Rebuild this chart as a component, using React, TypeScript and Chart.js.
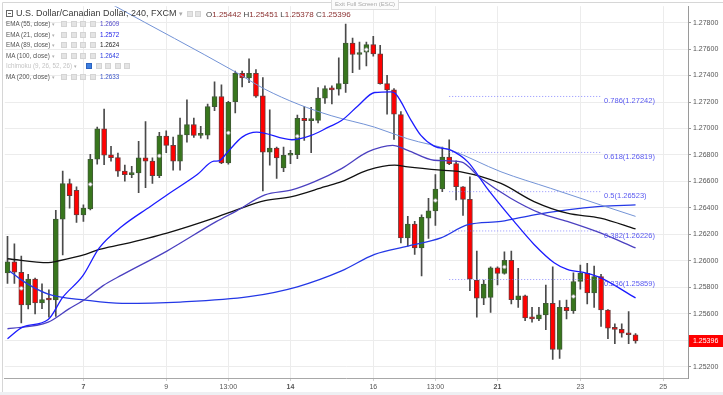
import React, { useEffect, useRef } from 'react';
import { Chart, registerables } from 'chart.js';

Chart.register(...registerables);

// ---- Candles (4h bars), index 0..91 ----
const opens = [
  1.25909, 1.25993, 1.25914, 1.25667, 1.25862, 1.25682, 1.25707, 1.25704, 1.26315, 1.26583,
  1.26533, 1.26348, 1.26393, 1.26768, 1.26997, 1.26802, 1.26780, 1.26678, 1.26652, 1.26665,
  1.26778, 1.26753, 1.26643, 1.26942, 1.26873, 1.26753, 1.26952, 1.27030, 1.26948, 1.26950,
  1.27165, 1.27242, 1.26740, 1.27202, 1.27416, 1.27382, 1.27416, 1.27247, 1.26822, 1.26852,
  1.26703, 1.26798, 1.26802, 1.27077, 1.27060, 1.27061, 1.27229, 1.27302, 1.27297, 1.27339,
  1.27646, 1.27559, 1.27577, 1.27634, 1.27564, 1.27339, 1.27292, 1.27105, 1.26173, 1.26278,
  1.26098, 1.26323, 1.26378, 1.26543, 1.26785, 1.26735, 1.26560, 1.26465, 1.25855, 1.25719,
  1.25724, 1.25948, 1.25906, 1.26004, 1.25707, 1.25736, 1.25572, 1.25562, 1.25592, 1.25679,
  1.25330, 1.25649, 1.25624, 1.25844, 1.25906, 1.25757, 1.25881, 1.25629, 1.25495, 1.25482,
  1.25457, 1.25442,
];
const highs = [
  1.26186, 1.26128, 1.26036, 1.25899, 1.25870, 1.25826, 1.25781, 1.26381, 1.26678, 1.26618,
  1.26560, 1.26423, 1.26805, 1.27010, 1.27147, 1.26865, 1.26815, 1.26723, 1.26715, 1.26903,
  1.27052, 1.26778, 1.26972, 1.26982, 1.26935, 1.27079, 1.27217, 1.27079, 1.27017, 1.27184,
  1.27352, 1.27330, 1.27205, 1.27434, 1.27434, 1.27527, 1.27446, 1.27384, 1.27142, 1.26860,
  1.26860, 1.26835, 1.27102, 1.27167, 1.27160, 1.27309, 1.27322, 1.27322, 1.27534, 1.27789,
  1.27684, 1.27652, 1.27652, 1.27697, 1.27629, 1.27402, 1.27302, 1.27127, 1.26336, 1.26298,
  1.26348, 1.26473, 1.26652, 1.26860, 1.26915, 1.26755, 1.26562, 1.26635, 1.26074, 1.25854,
  1.25954, 1.25954, 1.26068, 1.26074, 1.25944, 1.25742, 1.25649, 1.25649, 1.25817, 1.25954,
  1.25699, 1.25704, 1.25909, 1.25969, 1.25981, 1.25961, 1.25899, 1.25632, 1.25524, 1.25524,
  1.25617, 1.25451,
];
const lows = [
  1.25829, 1.25829, 1.25532, 1.25637, 1.25599, 1.25639, 1.25574, 1.25581, 1.26044, 1.26398,
  1.26291, 1.26298, 1.26385, 1.26730, 1.26727, 1.26753, 1.26638, 1.26603, 1.26628, 1.26515,
  1.26553, 1.26585, 1.26628, 1.26817, 1.26685, 1.26685, 1.26897, 1.26933, 1.26927, 1.26922,
  1.27135, 1.26735, 1.26730, 1.27117, 1.27315, 1.27347, 1.27234, 1.26528, 1.26723, 1.26622,
  1.26673, 1.26735, 1.26772, 1.26910, 1.26817, 1.27042, 1.27190, 1.27185, 1.27252, 1.27272,
  1.27422, 1.27446, 1.27472, 1.27547, 1.27334, 1.27109, 1.26918, 1.26136, 1.26111, 1.26049,
  1.25886, 1.26169, 1.26268, 1.26523, 1.26727, 1.26461, 1.26343, 1.25774, 1.25574, 1.25669,
  1.25611, 1.25819, 1.25900, 1.25674, 1.25649, 1.25549, 1.25537, 1.25549, 1.25480, 1.25255,
  1.25262, 1.25562, 1.25602, 1.25787, 1.25674, 1.25649, 1.25504, 1.25412, 1.25375, 1.25424,
  1.25375, 1.25378,
];
const closes = [
  1.25993, 1.25914, 1.25667, 1.25862, 1.25682, 1.25707, 1.25704, 1.26315, 1.26583, 1.26493,
  1.26348, 1.26398, 1.26768, 1.26997, 1.26798, 1.26780, 1.26678, 1.26652, 1.26665, 1.26778,
  1.26753, 1.26643, 1.26942, 1.26873, 1.26753, 1.26952, 1.27030, 1.26948, 1.26950, 1.27165,
  1.27242, 1.26740, 1.27197, 1.27416, 1.27382, 1.27416, 1.27244, 1.26822, 1.26852, 1.26778,
  1.26798, 1.26801, 1.27077, 1.27060, 1.27062, 1.27229, 1.27302, 1.27292, 1.27339, 1.27646,
  1.27559, 1.27571, 1.27634, 1.27564, 1.27339, 1.27292, 1.27109, 1.26173, 1.26278, 1.26098,
  1.26328, 1.26378, 1.26543, 1.26785, 1.26735, 1.26560, 1.26465, 1.25862, 1.25719, 1.25824,
  1.25948, 1.25906, 1.26004, 1.25707, 1.25736, 1.25569, 1.25562, 1.25592, 1.25679, 1.25330,
  1.25649, 1.25624, 1.25844, 1.25906, 1.25757, 1.25881, 1.25629, 1.25492, 1.25482, 1.25454,
  1.25442, 1.25396,
];

// ---- Moving averages (bar index, price) ----
const ema21X = [0, 2.2, 5.9, 8, 10.9, 13.3, 16.6, 20.7, 23.1, 27.5, 29.9, 30.6, 31.9, 34, 36.1, 41.2, 44, 46.5, 48.4, 50.8, 53.2, 55.6, 56.3, 58.5, 59.9, 61.8, 64.3, 66.7, 69.5, 73.4, 76.3, 79.2, 81.1, 84, 85.9, 91];
const ema21Y = [1.25412, 1.25499, 1.25557, 1.25724, 1.25886, 1.26098, 1.26261, 1.26411, 1.26498, 1.26652, 1.26753, 1.26755, 1.26823, 1.26935, 1.26972, 1.26915, 1.26948, 1.27010, 1.27060, 1.27172, 1.27272, 1.27277, 1.27259, 1.27060, 1.26948, 1.26867, 1.26835, 1.26748, 1.26548, 1.26298, 1.26124, 1.25986, 1.25936, 1.25906, 1.25873, 1.25720];
const ema55X = [0, 5.9, 8.9, 11.3, 13.8, 16.6, 23.1, 30.3, 33.2, 37.3, 41.2, 44.5, 48.4, 52.2, 55.8, 58, 61.8, 65.7, 68.6, 72.9, 77.2, 81.1, 85.9, 91];
const ema55Y = [1.25487, 1.25537, 1.25637, 1.25712, 1.25811, 1.25894, 1.26074, 1.26298, 1.26378, 1.26498, 1.26536, 1.26598, 1.26697, 1.26823, 1.26873, 1.26835, 1.26760, 1.26748, 1.26622, 1.26473, 1.26360, 1.26298, 1.26211, 1.26098];
const ema89X = [0, 5.9, 7.3, 11.3, 13.3, 16.6, 23.1, 29.9, 33.2, 37.3, 41.2, 46, 48.4, 52.2, 56.1, 58, 62.8, 65.7, 71.5, 76.3, 81.1, 85.9, 91];
const ema89Y = [1.26016, 1.25986, 1.25999, 1.26049, 1.26086, 1.26124, 1.26210, 1.26323, 1.26386, 1.26455, 1.26485, 1.26560, 1.26598, 1.26685, 1.26723, 1.26710, 1.26685, 1.26673, 1.26585, 1.26448, 1.26360, 1.26323, 1.26241];
const ma100X = [0.3, 2.2, 5.9, 11.3, 16.6, 25, 35, 42, 48.4, 53.2, 58, 62.8, 66.7, 71.5, 76.3, 81.1, 85.9, 91];
const ma100Y = [1.25924, 1.25849, 1.25749, 1.25704, 1.25679, 1.25689, 1.25729, 1.25804, 1.25924, 1.26049, 1.26111, 1.26173, 1.26273, 1.26298, 1.26348, 1.26386, 1.26411, 1.26423];
const ma200X = [0, 8, 15.6, 32.8, 37.3, 42.1, 46.9, 53.2, 58, 64.3, 71.5, 78.7, 85.9, 91];
const ma200Y = [1.28365, 1.28144, 1.27924, 1.27434, 1.27297, 1.27184, 1.27097, 1.27010, 1.26922, 1.26835, 1.26673, 1.26548, 1.26423, 1.26336];

// ---- periodic markers ----
const dotX = [2, 12, 22, 32, 42, 52, 62, 72, 82];
const dotY = [1.25792, 1.26578, 1.26793, 1.26967, 1.26942, 1.27596, 1.26456, 1.25954, 1.25731];

// ---- Fibonacci retracement ----
const fibRatios = [0.786, 0.618, 0.5, 0.382, 0.236];
const fibPrices = [1.27242, 1.26819, 1.26523, 1.26226, 1.25859];
const fibStart = 64;
const fibEnd = 86;

// ---- Axes ----
const xTickIdx = [11, 23, 32, 41, 53, 62, 71, 83, 95];
const xTickLabels = ['7', '9', '13:00', '14', '16', '13:00', '21', '23', '25'];
const xBoldLabels = ['7', '14', '21'];
const yTicks = [1.252, 1.254, 1.256, 1.258, 1.26, 1.262, 1.264, 1.266, 1.268, 1.27, 1.272, 1.274, 1.276, 1.278];
const yMin = 1.25115;
const yMax = 1.27924;
const xMin = -0.39;
const xMax = 98.6;

const FONT = '"Liberation Sans", Arial, sans-serif';

const legendRows = [
  { name: 'EMA (55, close)', value: '1.2609', color: '#4f46c8', icons: 4, faded: false },
  { name: 'EMA (21, close)', value: '1.2572', color: '#2020e8', icons: 4, faded: false },
  { name: 'EMA (89, close)', value: '1.2624', color: '#222', icons: 4, faded: false },
  { name: 'MA (100, close)', value: '1.2642', color: '#2a3be0', icons: 4, faded: false },
  { name: 'Ichimoku (9, 26, 52, 26)', value: '', color: '#bbb', icons: 5, faded: true },
  { name: 'MA (200, close)', value: '1.2633', color: '#3a55c8', icons: 4, faded: false },
];

function pts(xs: number[], ys: number[]) {
  return xs.map((x, i) => ({ x, y: ys[i] }));
}

const Icon = ({ left, top, blue }: { left: number; top: number; blue?: boolean }) => (
  <div
    style={{
      position: 'absolute',
      left,
      top,
      width: 6,
      height: 6,
      background: blue ? '#3d7fe0' : '#e4e4e4',
      border: blue ? '1px solid #2b63c0' : '1px solid #d4d4d4',
      boxSizing: 'border-box',
    }}
  />
);

export default function App() {
  const ref = useRef<HTMLCanvasElement>(null);

  useEffect(() => {
    const last = closes.length - 1;
    const idx = opens.map((_, i) => i);
    const up = idx.map((i) => closes[i] >= opens[i]);

    const overlay = {
      id: 'overlay',
      beforeDraw(chart: any) {
        const { ctx } = chart;
        ctx.save();
        ctx.fillStyle = '#ffffff';
        ctx.fillRect(0, 0, chart.width, chart.height);
        ctx.fillStyle = '#eef0f3';
        ctx.fillRect(0, 392, chart.width, 3);
        ctx.strokeStyle = '#d6d6d6';
        ctx.lineWidth = 1;
        ctx.beginPath();
        ctx.moveTo(2.5, 392);
        ctx.lineTo(2.5, 2.5);
        ctx.lineTo(chart.width, 2.5);
        ctx.stroke();
        ctx.restore();
      },
      afterDraw(chart: any) {
        const { ctx, scales, chartArea } = chart;
        const x = scales.x;
        const y = scales.y;
        ctx.save();
        ctx.font = `7.5px ${FONT}`;
        ctx.textBaseline = 'middle';
        ctx.textAlign = 'left';
        ctx.fillStyle = '#5a5af0';
        fibRatios.forEach((r, k) => {
          const py = y.getPixelForValue(fibPrices[k]);
          const px = x.getPixelForValue(fibEnd) + 3;
          ctx.fillText(`${r}(${fibPrices[k].toFixed(5)})`, px, py + 4.5);
        });
        const py = Math.round(y.getPixelForValue(closes[last]));
        ctx.fillStyle = '#ff0000';
        ctx.fillRect(chartArea.right + 1, py - 6, chart.width - chartArea.right - 1, 12);
        ctx.fillStyle = '#ffffff';
        ctx.font = `7px ${FONT}`;
        ctx.fillText(closes[last].toFixed(5), chartArea.right + 5, py + 0.5);
        ctx.restore();
      },
    };

    const lineDs = (label: string, data: any[], color: string, width: number, order: number) => ({
      type: 'line' as const,
      label,
      data,
      borderColor: color,
      borderWidth: width,
      pointRadius: 0,
      cubicInterpolationMode: 'monotone' as const,
      fill: false,
      order,
    });

    const fibDatasets = fibPrices.map((p, k) => ({
      type: 'line' as const,
      label: 'fib' + fibRatios[k],
      data: [
        { x: fibStart, y: p },
        { x: fibEnd, y: p },
      ],
      borderColor: 'rgba(110,110,255,0.75)',
      borderWidth: 1,
      borderDash: [1, 2],
      pointRadius: 0,
      fill: false,
      order: 6,
    }));

    const chart = new Chart(ref.current as HTMLCanvasElement, {
      type: 'bar',
      data: {
        datasets: [
          {
            type: 'bar',
            label: 'wicks',
            data: idx.map((i) => ({ x: i, y: [lows[i], highs[i]] })) as any,
            backgroundColor: '#4a4a4a',
            borderWidth: 0,
            barThickness: 1,
            grouped: false,
            order: 20,
          } as any,
          {
            type: 'bar',
            label: 'bodies',
            data: idx.map((i) => ({ x: i, y: [opens[i], closes[i]] })) as any,
            backgroundColor: idx.map((i) => (up[i] ? '#38761d' : '#ff0000')),
            borderColor: idx.map((i) => (up[i] ? '#3f5a35' : '#6b3a3a')),
            borderWidth: 1,
            borderSkipped: false,
            barThickness: 5,
            minBarLength: 2,
            grouped: false,
            order: 19,
          } as any,
          ...fibDatasets,
          lineDs('MA (100)', pts(ma100X, ma100Y), '#2438e6', 1.3, 5),
          lineDs('EMA (89)', pts(ema89X, ema89Y), '#111111', 1.3, 4),
          lineDs('EMA (55)', pts(ema55X, ema55Y), '#4b40c0', 1.3, 3),
          lineDs('MA (200)', pts(ma200X, ma200Y), '#7393d6', 1, 2),
          lineDs('EMA (21)', pts(ema21X, ema21Y), '#1c1cff', 1.3, 1),
          {
            type: 'line',
            label: 'markers',
            data: pts(dotX, dotY),
            showLine: false,
            pointRadius: 1.8,
            pointBackgroundColor: '#ffffff',
            pointBorderColor: '#9a9a9a',
            pointBorderWidth: 0.8,
            order: 0,
          } as any,
        ],
      },
      options: {
        responsive: false,
        animation: false,
        events: [],
        layout: { padding: { left: 2, top: 3, right: 0, bottom: 0 } },
        plugins: {
          legend: { display: false },
          tooltip: { enabled: false },
        },
        scales: {
          x: {
            type: 'linear',
            min: xMin,
            max: xMax,
            offset: false,
            afterFit: (s: any) => {
              s.height = 17;
            },
            afterBuildTicks: (s: any) => {
              s.ticks = xTickIdx.map((v) => ({ value: v }));
            },
            grid: {
              offset: false,
              color: '#ececec',
              tickColor: '#cfcfcf',
              tickLength: 3,
              drawTicks: true,
            },
            border: { color: '#a8a8a8', width: 1 },
            ticks: {
              autoSkip: false,
              maxRotation: 0,
              padding: 2,
              color: '#555',
              font: (c: any) => {
                const lbl = xTickLabels[c.index];
                return { family: FONT, size: 7, weight: xBoldLabels.includes(lbl) ? 'bold' : 'normal' } as any;
              },
              callback: (_v: any, i: number) => xTickLabels[i],
            },
          },
          y: {
            type: 'linear',
            position: 'right',
            min: yMin,
            max: yMax,
            afterFit: (s: any) => {
              s.width = 35;
            },
            afterBuildTicks: (s: any) => {
              s.ticks = yTicks.map((v) => ({ value: v }));
            },
            grid: {
              color: '#ececec',
              tickColor: '#9a9a9a',
              tickLength: 3,
              drawTicks: true,
            },
            border: { color: '#9a9a9a', width: 1 },
            ticks: {
              padding: 2,
              color: '#555',
              font: { family: FONT, size: 7 },
              callback: (v: any) => Number(v).toFixed(5),
            },
          },
        },
      },
      plugins: [overlay],
    });

    return () => chart.destroy();
  }, []);

  const baseText: React.CSSProperties = {
    position: 'absolute',
    fontFamily: FONT,
    whiteSpace: 'nowrap',
  };

  return (
    <div style={{ position: 'fixed', left: 0, top: 0, width: 723, height: 395, background: '#fff', overflow: 'hidden' }}>
      <canvas ref={ref} width={723} height={395} style={{ display: 'block', width: 723, height: 395 }} />

      {/* Title row */}
      <div style={{ position: 'absolute', left: 6, top: 10, width: 7, height: 7, border: '1px solid #666', boxSizing: 'border-box' }}>
        <div style={{ position: 'absolute', left: 1, top: 2, width: 3, height: 1, background: '#666' }} />
      </div>
      <div style={{ ...baseText, left: 16, top: 8, fontSize: 9, lineHeight: '11px', color: '#3a3a3a' }}>
        U.S. Dollar/Canadian Dollar, 240, FXCM <span style={{ color: '#aaa', fontSize: 7 }}>▾</span>
      </div>
      <Icon left={187} top={11} />
      <Icon left={195} top={11} />
      <div style={{ ...baseText, left: 206, top: 8.5, fontSize: 8, lineHeight: '11px', color: '#8a2f2f' }}>
        <span style={{ color: '#444' }}>O</span>1.25442 <span style={{ color: '#444' }}>H</span>1.25451{' '}
        <span style={{ color: '#444' }}>L</span>1.25378 <span style={{ color: '#444' }}>C</span>1.25396
      </div>

      {/* Exit full screen hint */}
      <div
        style={{
          ...baseText,
          left: 331,
          top: -1,
          height: 9,
          padding: '0 3px',
          fontSize: 6,
          lineHeight: '9px',
          color: '#aaa',
          background: '#fbfbfb',
          border: '1px solid #ddd',
        }}
      >
        Exit Full Screen (ESC)
      </div>

      {/* Indicator legend */}
      {legendRows.map((r, k) => {
        const top = 20 + k * 10.6;
        return (
          <React.Fragment key={k}>
            <div style={{ ...baseText, left: 6, top, fontSize: 6.3, lineHeight: '8px', color: r.faded ? '#c4c4c4' : '#555' }}>
              {r.name} <span style={{ color: '#b0b0b0', fontSize: 5 }}>▾</span>
            </div>
            {Array.from({ length: r.icons }).map((_, j) => (
              <Icon
                key={j}
                left={(r.faded ? 86 : 61) + j * (r.faded ? 9.6 : 9.5)}
                top={top + 1}
                blue={r.faded && j === 0}
              />
            ))}
            {r.value && (
              <div style={{ ...baseText, left: 100, top, fontSize: 6.3, lineHeight: '8px', color: r.color }}>{r.value}</div>
            )}
          </React.Fragment>
        );
      })}
    </div>
  );
}
